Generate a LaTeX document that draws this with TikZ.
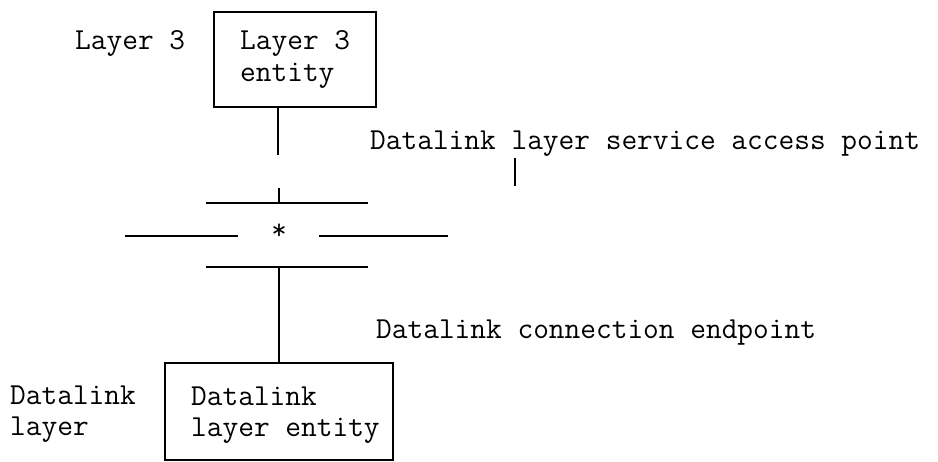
\documentclass[tikz,border=0pt]{standalone}
\usepackage{fontspec}
\begin{document}
\begin{tikzpicture}[x=1pt,y=-1pt,
  txt/.style={anchor=base west,inner sep=0pt,font=\fontsize{30.5}{32}\ttfamily},
  box/.style={draw,line width=2pt,rectangle,inner sep=0pt},
  ln/.style={line width=1.8pt}]
\useasboundingbox (0,0) rectangle (938,462);
% boxes
\node[box,minimum width=162pt,minimum height=95pt] (L3) at (295,59.5) {};
\node[box,minimum width=228pt,minimum height=97pt] (DL) at (279,411.5) {};
% texts
\node[txt] (lbl3) at (75,50) {Layer 3};
\node[txt] (L3a) at (240,50) {Layer 3};
\node[txt] (L3b) at (240,82) {entity};
\node[txt] (sap) at (370,150) {Datalink layer service access point};
\node[txt] (cep) at (376,339) {Datalink connection endpoint};
\node[txt] (dla) at (10,405) {Datalink};
\node[txt] (dlb) at (10,436) {layer};
\node[txt] (DLa) at (191,406) {Datalink};
\node[txt] (DLb) at (191,437) {layer entity};
% star
\node[anchor=base,inner sep=0pt,font=\fontsize{30}{30}\ttfamily] (star) at (279,240) {*};
% coordinates
\coordinate (sapTop) at (278,155);
\coordinate (tk1) at (279,188);
\coordinate (t1) at (206,203);
\coordinate (t2) at (368,203);
\coordinate (b1) at (206,267);
\coordinate (b2) at (368,267);
\coordinate (m1) at (125,236);
\coordinate (m2) at (238,236);
\coordinate (m3) at (319,236);
\coordinate (m4) at (448,236);
\coordinate (s1) at (515,158);
\coordinate (s2) at (515,186);
% lines
\draw[ln] (sapTop |- L3.south) -- (sapTop);
\draw[ln] (tk1) -- (tk1 |- t1);
\draw[ln] (t1) -- (t2);
\draw[ln] (m1) -- (m2);
\draw[ln] (m3) -- (m4);
\draw[ln] (b1) -- (b2);
\draw[ln] (DL.north |- b1) -- (DL.north);
\draw[ln] (s1) -- (s2);
\end{tikzpicture}
\end{document}
